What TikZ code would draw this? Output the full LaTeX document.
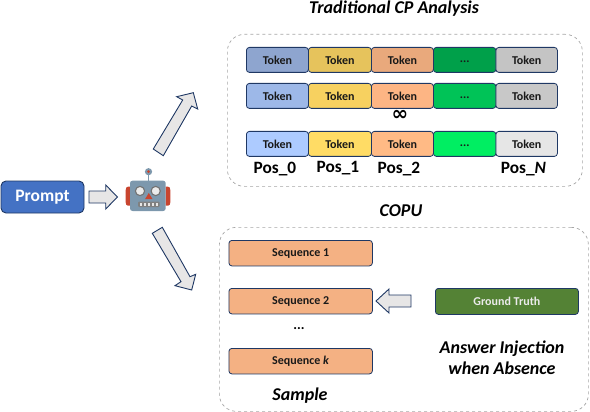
\documentclass[tikz,border=0pt]{standalone}
\usepackage{fontspec}
\setmainfont{Carlito}
\newfontfamily\symfont{DejaVu Sans}
\definecolor{edgeblue}{HTML}{1F3864}
\definecolor{panelgray}{HTML}{A6A6A6}
\definecolor{arrowfill}{HTML}{E7E6E6}
\definecolor{seqfill}{HTML}{F4B183}
\definecolor{promptblue}{HTML}{4472C4}
\definecolor{gtgreen}{HTML}{548235}
\definecolor{aa}{HTML}{8EA5CF}\definecolor{ab}{HTML}{E6C35C}\definecolor{ac}{HTML}{E9A97C}\definecolor{ad}{HTML}{00A04A}\definecolor{ae}{HTML}{C4C4C4}
\definecolor{ba}{HTML}{9DB8E8}\definecolor{bb}{HTML}{F7D160}\definecolor{bc}{HTML}{FDB584}\definecolor{bd}{HTML}{00C357}\definecolor{be}{HTML}{C8C8C8}
\definecolor{ca}{HTML}{ADCBFF}\definecolor{cb}{HTML}{FFDC65}\definecolor{cc}{HTML}{FFBA85}\definecolor{cd}{HTML}{00EE62}\definecolor{ce}{HTML}{E6E6E6}
\definecolor{robotbody}{HTML}{7D98AD}
\definecolor{robotred}{HTML}{C8452F}
\tikzset{
  panel/.style={draw=panelgray,dashed,rounded corners=17pt,line width=.7pt,inner sep=0pt,anchor=north west},
  tok/.style={draw=edgeblue,line width=.8pt,rounded corners=3pt,minimum height=25pt,inner sep=0pt,font=\fontsize{12}{14}\selectfont\bfseries,text=black!90,anchor=north west},
  seq/.style={tok,minimum width=143.5pt,minimum height=25.5pt,fill=seqfill},
  blockarrow/.style={draw=edgeblue,fill=arrowfill,line width=.9pt,line join=miter},
  title/.style={font=\fontsize{18}{21.5}\selectfont\bfseries\itshape,text=black},
  poslabel/.style={font=\fontsize{17.3}{20}\selectfont\bfseries,text=black},
}
\newcommand{\tokrow}[2]{%
  \node[tok,minimum width=62pt,fill=#1a] (t#1a) at (246,#2) {Token};
  \node[tok,minimum width=63pt,fill=#1b] (t#1b) at (308,#2) {Token};
  \node[tok,minimum width=62pt,fill=#1c] (t#1c) at (371,#2) {Token};
  \node[tok,minimum width=62.5pt,fill=#1d] (t#1d) at (433,#2) {\strut...};
  \node[tok,minimum width=61.5pt,fill=#1e] (t#1e) at (495.5,#2) {Token};
}
\begin{document}
\begin{tikzpicture}[x=1pt,y=-1pt]
\useasboundingbox (0,0) rectangle (590,412);
% panels
\node[panel,minimum width=355pt,minimum height=152pt] (p1) at (227,34) {};
\node[panel,minimum width=369pt,minimum height=184pt] (p2) at (219,227) {};
\node[title] (t1) at (394,8.5) {Traditional CP Analysis};
\node[title] (t2) at (401,211) {COPU};
% tokens
\tokrow{a}{47}
\tokrow{b}{83}
\tokrow{c}{131}
\node[font=\fontsize{20}{20}\selectfont\symfont\bfseries] (inf) at (400,115.5) {∞};
\node[poslabel] (pos0) at (275,169.5) {Pos\_0};
\node[poslabel] (pos1) at (338,168) {Pos\_1};
\node[poslabel] (pos2) at (399,169.5) {Pos\_2};
\node[poslabel] (posn) at (523.5,169) {Pos\_\textit{N}};
% sequences
\node[seq] (s1) at (228.5,240) {Sequence 1};
\node[seq] (s2) at (228.5,288) {Sequence 2};
\node[seq] (sk) at (228.5,348) {Sequence \textit{k}};
\node[tok,minimum width=143pt,minimum height=26pt,fill=gtgreen,text=white!92!black] (gt) at (435,288) {Ground Truth};
\node[font=\fontsize{14}{14}\selectfont\bfseries] (dots) at (299,329) {...};
\node[title] (sample) at (300,396) {Sample};
\node[title,align=center] (aij) at (502,357.5) {Answer Injection\\when Absence};
% prompt
\node[draw=edgeblue,line width=.9pt,fill=promptblue,rounded corners=5pt,minimum width=83pt,minimum height=32pt,inner sep=0pt,text=white,font=\fontsize{17.5}{20}\selectfont\bfseries] (prompt) at (42.5,197) {Prompt};
% block arrows
\draw[blockarrow] (89,191) -- (105.7,191) -- (105.7,185) -- (117.5,197) -- (105.7,209) -- (105.7,203) -- (89,203) -- cycle;
\draw[blockarrow] (411,295) -- (389,295) -- (389,289) -- (376,301) -- (389,313) -- (389,307) -- (411,307) -- cycle;
\draw[blockarrow] (153.3,149) -- (182.7,100) -- (176.7,96.7) -- (193.3,92.7) -- (197.7,109) -- (191.7,106) -- (163.3,155.7) -- cycle;
\draw[blockarrow] (152.3,233.3) -- (162.3,227.3) -- (190,276.7) -- (195.7,274.3) -- (191.7,290) -- (175,285.7) -- (181,281.7) -- cycle;
% robot
\fill[robotred] (130.5,186.7) -- (128,186.7) .. controls (126.5,186.7) and (125.7,188) .. (125.7,190) -- (125.7,202.5) .. controls (125.7,204.5) and (126.5,205.7) .. (128,205.7) -- (130.5,205.7) -- cycle;
\fill[robotred] (165.5,186.7) -- (168,186.7) .. controls (169.5,186.7) and (170.3,188) .. (170.3,190) -- (170.3,202.5) .. controls (170.3,204.5) and (169.5,205.7) .. (168,205.7) -- (165.5,205.7) -- cycle;
\draw[robotbody,line width=1.3pt] (148.5,174) -- (148.5,181);
\fill[robotbody] (148.5,171.7) circle[radius=3.6pt];
\fill[robotred] (148.5,171.7) circle[radius=1.5pt];
\fill[robotbody,rounded corners=2.5pt] (130,180.7) rectangle (165.7,211);
\filldraw[fill=white!92!black,draw=black!55,line width=1.1pt] (140,191) circle[radius=4.6pt];
\filldraw[fill=white!92!black,draw=black!55,line width=1.1pt] (155.7,191) circle[radius=4.6pt];
\fill[robotred] (148.8,193) -- (152.6,199.2) -- (145,199.2) -- cycle;
\fill[black!50,rounded corners=1pt] (138,201.5) rectangle (159.5,207);
\foreach \tx in {139.5,143.5,147.5,151.5,155.5}
  \fill[white!90!black] (\tx,202.8) rectangle ++(2.8,2.9);
\end{tikzpicture}
\end{document}
